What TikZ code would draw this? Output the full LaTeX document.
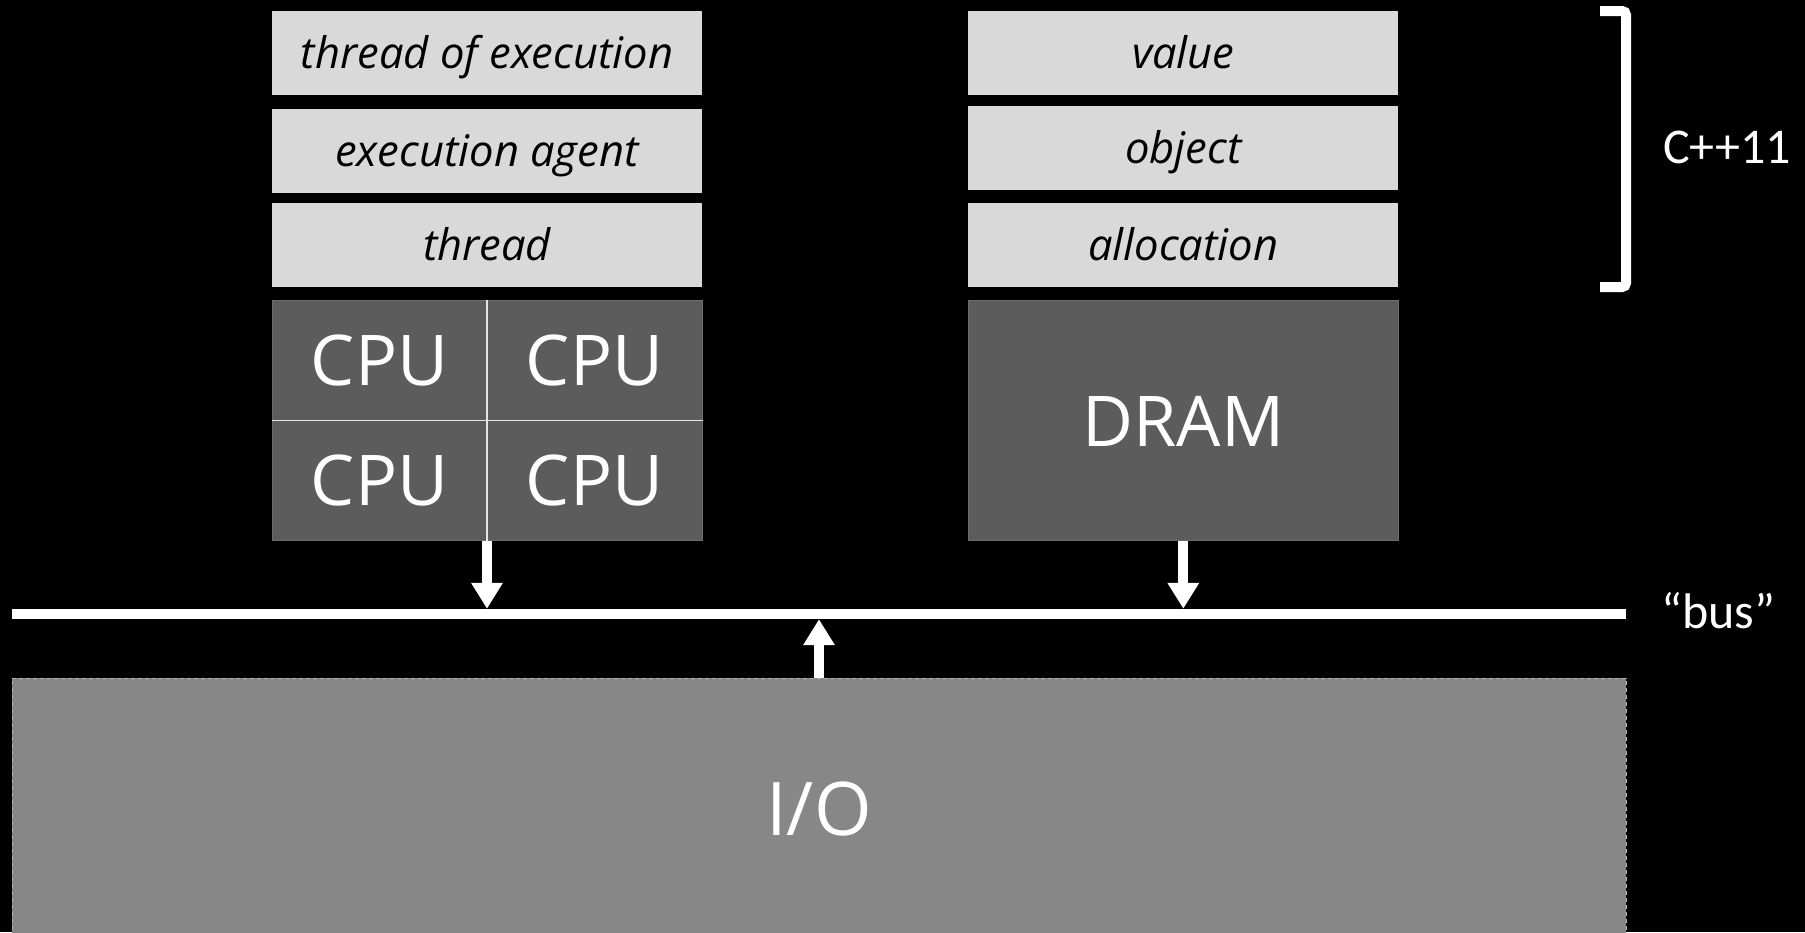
\documentclass[tikz,border=0pt]{standalone}
\usepackage{fontspec}
\setmainfont{Open Sans}
\newfontfamily\hwfont{Open Sans}
\newfontfamily\notefont{Carlito}
\usetikzlibrary{arrows.meta}

\definecolor{layerfill}{HTML}{D9D9D9}
\definecolor{hwfill}{HTML}{5C5C5C}
\definecolor{hwline}{HTML}{6C6C6C}
\definecolor{iofill}{HTML}{878787}
\definecolor{ioline}{HTML}{B4B4B4}
\definecolor{divider}{HTML}{E6E6E6}

\begin{document}
\begin{tikzpicture}[x=1pt,y=-1pt,
  layer/.style={fill=layerfill, minimum width=430pt, minimum height=84pt,
    inner sep=0pt, text height=31pt, text depth=0pt, text=black,
    font=\fontsize{43.5}{45}\selectfont\itshape},
  hw/.style={fill=hwfill, draw=hwline, line width=1pt, minimum width=430pt,
    minimum height=240pt, inner sep=0pt},
  hwtext/.style={text=white, inner sep=0pt, font=\hwfont\fontsize{70}{76}\selectfont},
  busarrow/.style={draw=white, line width=10pt, -{Triangle[width=30pt,length=26pt]}},
  note/.style={text=white, inner sep=0pt, font=\notefont\fontsize{50}{55}\selectfont}
]
% canvas
\clip (0,0) rectangle (1805,932);
\fill[black] (0,0) rectangle (1805,932);

% execution side
\node[layer] (toe)    at (487,52.8)  {thread of execution};
\node[layer] (agent)  at (487,150.8) {execution agent};
\node[layer] (thread) at (487,244.8) {thread};

\node[hw] (cpus) at (487,420.7) {};
\draw[divider, line width=1.5pt] (cpus.north) -- (cpus.south);
\draw[divider, line width=1.5pt] (cpus.west) -- (cpus.east);
\node[hwtext] (cpu1) at (379.5,360.7) {CPU};
\node[hwtext] (cpu2) at (594.5,360.7) {CPU};
\node[hwtext] (cpu3) at (379.5,480.7) {CPU};
\node[hwtext] (cpu4) at (594.5,480.7) {CPU};

% storage side
\node[layer] (value)  at (1183.3,52.8)  {value};
\node[layer] (object) at (1183.3,147.8) {object};
\node[layer] (alloc)  at (1183.3,244.8) {allocation};

\node[hw] (dram) at (1183.3,420.7) {};
\node[hwtext] (dramtext) at (1183.3,421) {DRAM};

% bus and I/O
\node[fill=white, minimum width=1614pt, minimum height=10pt, inner sep=0pt] (bus) at (819,614) {};
\node[fill=iofill, draw=ioline, line width=1pt, dash pattern=on 4pt off 3pt,
      minimum width=1614pt, minimum height=262pt, inner sep=0pt,
      text=white, font=\hwfont\fontsize{74}{80}\selectfont] (io) at (819,809) {I/O};

\draw[busarrow] (cpus.south) -- (cpus.south |- bus.north);
\draw[busarrow] (dram.south) -- (dram.south |- bus.north);
\draw[busarrow] (io.north) -- (io.north |- bus.south);

% labels on the right
\coordinate (brtop) at (1600,11);
\coordinate (brbot) at (1600,287);
\draw[white, line width=10pt, rounded corners=4pt]
  (brtop) -- (1626,11) -- (1626,287) -- (brbot);
\node[note, anchor=base west] (cxx) at (1663,163) {C++11};
\node[note, anchor=base west] (buslabel) at (1661,628) {“bus”};
\end{tikzpicture}
\end{document}
